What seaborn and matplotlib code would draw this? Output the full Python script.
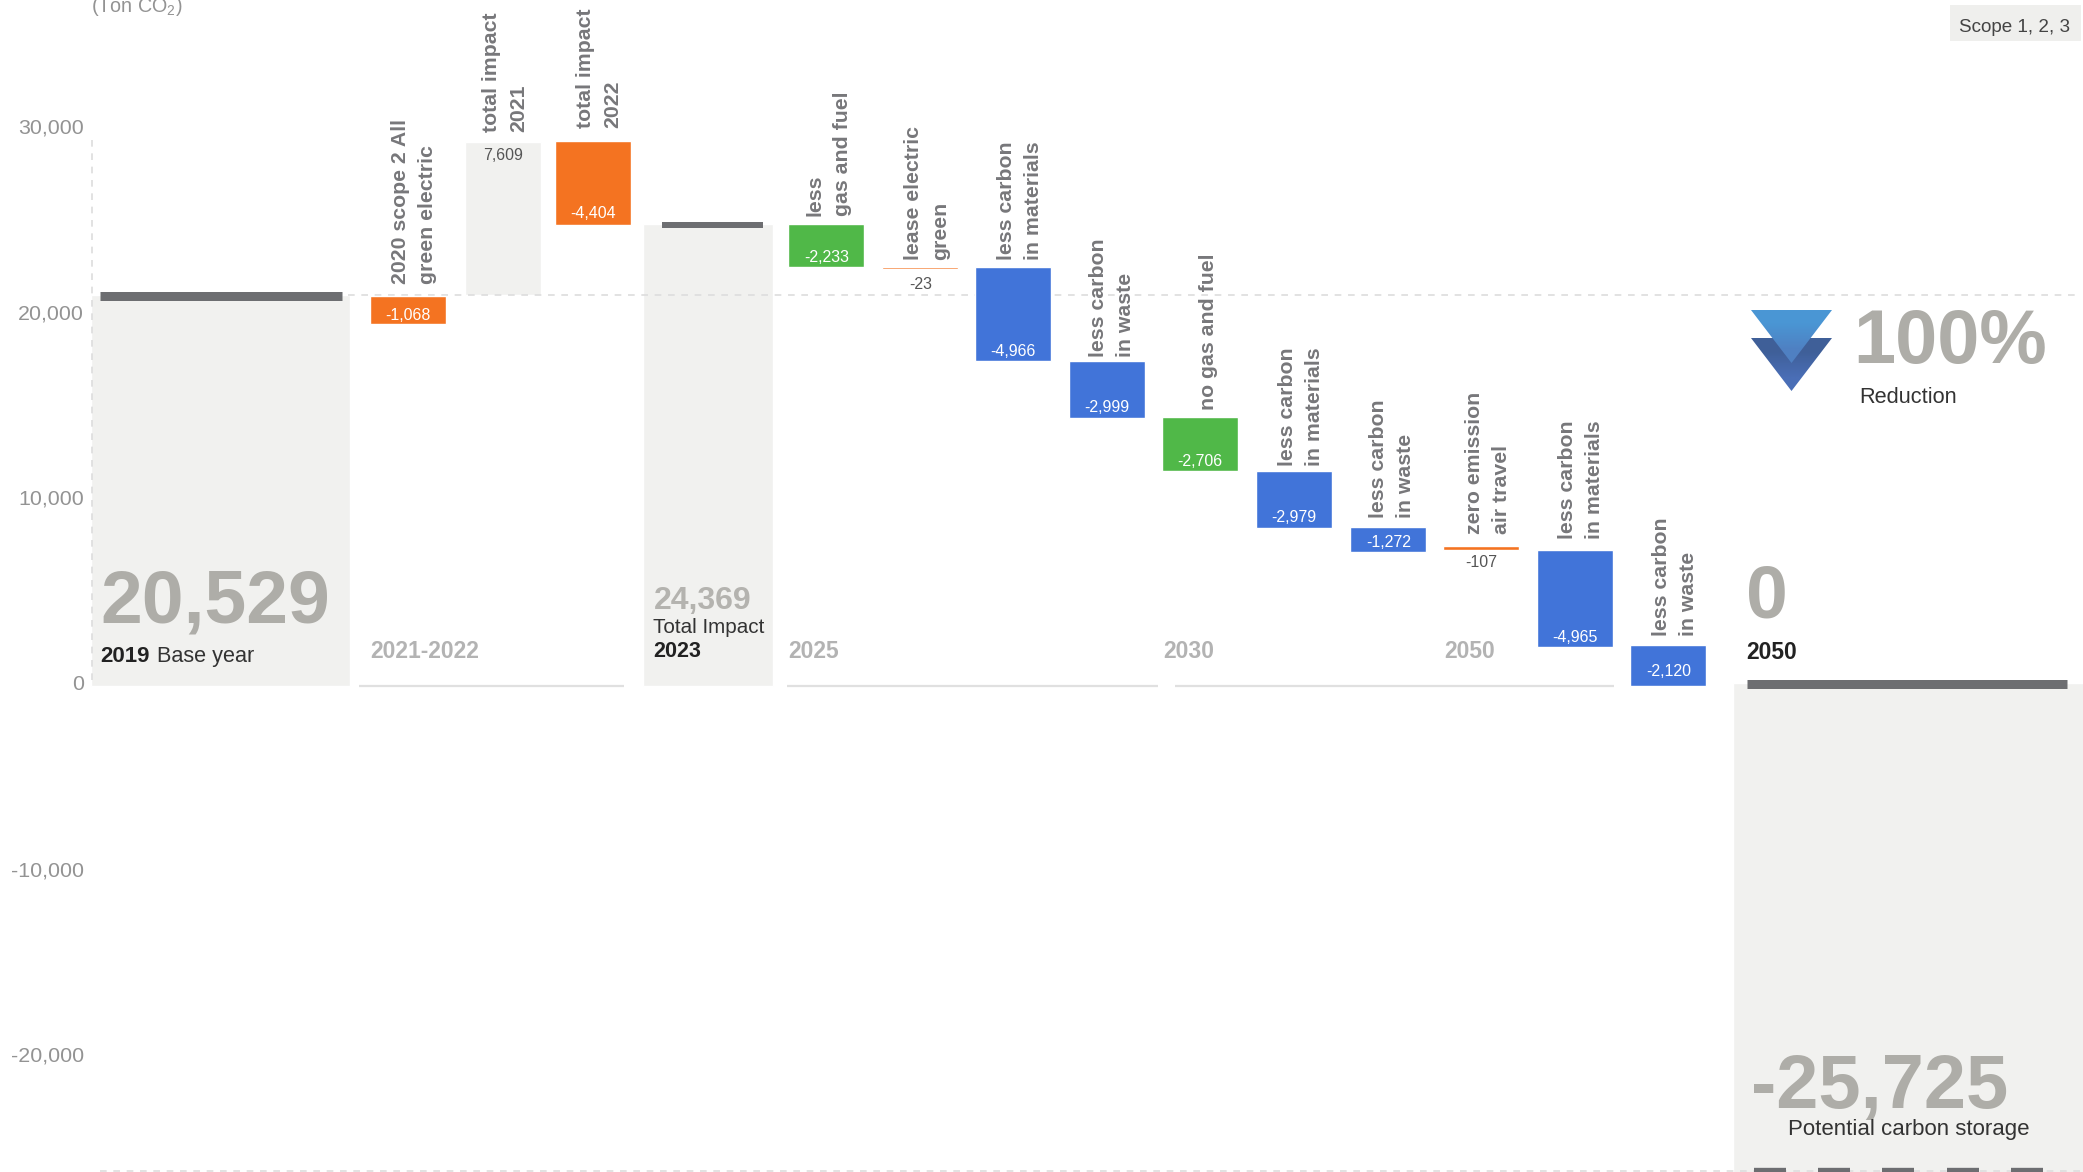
import numpy as np
import pandas as pd
import matplotlib
matplotlib.use("Agg")
import matplotlib.pyplot as plt
from matplotlib.colors import LinearSegmentedColormap
from matplotlib.patches import Polygon, Rectangle
import seaborn as sns

W, H = 2083, 1172

# --- data (ton CO2) ---
steps = ["2020 scope 2 All\ngreen electric", "total impact\n2021", "total impact\n2022",
         "less\ngas and fuel", "lease electric\ngreen", "less carbon\nin materials",
         "less carbon\nin waste", "no gas and fuel", "less carbon\nin materials",
         "less carbon\nin waste", "zero emission\nair travel", "less carbon\nin materials",
         "less carbon\nin waste"]
step_values = ["-1,068", "7,609", "-4,404", "-2,233", "-23", "-4,966", "-2,999",
               "-2,706", "-2,979", "-1,272", "-107", "-4,965", "-2,120"]
step_top = [20526, 28632, 28684, 24316, 22053, 22053, 17105, 14158, 11316, 8368, 7368, 7158, 2158]
step_low = [19053, 20590, 24263, 22053, 21945, 17105, 14105, 11316, 8316, 7053, 7158, 2053, 0]
step_kind = ["orange", "total", "orange", "green", "orange", "blue", "blue",
             "green", "blue", "blue", "orange", "blue", "blue"]

total_top = [20600, 24316, 158]
total_low = [0, 0, -25725]
cap_levels = [20553, 24263, 131]
ref_level = 20590
tick_values = [30000, 20000, 10000, 0, -10000, -20000]

# --- layout (pixels of the 2083x1172 canvas) ---
colors = {"orange": "#f47321", "green": "#50b848", "blue": "#4174d9", "total": "#f1f1ef"}
PX_PER_UNIT = 0.019
ZERO_Y = 686.4
step_left = [370.3, 465.5, 555.5, 788.3, 882.3, 975.3, 1069.3, 1162.3, 1256.3, 1350.3, 1443.3, 1537.3, 1630.5]
step_width = 76
total_left = [91, 643.2, 1733.2]
total_right = [350, 773, 2090]
cap_spans = [(99.5, 342, 9), (662.5, 763, 6), (1747.5, 2067, 9)]
label_pos = [(414, 284), (505, 132), (599, 128), (829, 216), (927, 260), (1020, 260),
             (1112, 357), (1208, 410), (1301, 466), (1392, 518), (1488, 534), (1581, 539), (1675, 636)]
value_off = [9, -13, 12, 10, -15, 10, 11, 10, 11, 10, -12, 10, 15]

sns.set_theme(style="white")
plt.rcParams["font.family"] = ["Liberation Sans", "DejaVu Sans"]
plt.rcParams["mathtext.fontset"] = "custom"
plt.rcParams["mathtext.rm"] = "Liberation Sans"

fig = plt.figure(figsize=(W / 100, H / 100), dpi=100)
ax = fig.add_axes([91 / W, 0, 1 - 91 / W, 1])
ax.patch.set_alpha(0)

df = pd.DataFrame({"label": steps, "top": step_top, "low": step_low, "kind": step_kind,
                   "left": step_left})
df["height"] = df.top - df.low
df["x"] = df.left + step_width / 2

# totals are the pale columns
for top, low, l, r in zip(total_top, total_low, total_left, total_right):
    sns.barplot(x=[(l + r) / 2], y=[top - low], bottom=low, width=r - l, native_scale=True,
                color=colors["total"], saturation=1, zorder=0.3, ax=ax)

# floating steps
for row in df.itertuples():
    sns.barplot(x=[row.x], y=[row.height], bottom=row.low, width=step_width, native_scale=True,
                color=colors[row.kind], saturation=1, zorder=0.3 if row.kind == "total" else 1, ax=ax)

# dark caps on the totals
for level, (l, r, t) in zip(cap_levels, cap_spans):
    ax.hlines(level, l, r, color="#6d6e71", lw=t * 0.72, capstyle="butt", zorder=2)

# dashed guides
guide = dict(color="#dddddd", lw=1.2, dashes=(4, 4), zorder=0.5)
ax.plot([348, 2076], [ref_level, ref_level], **guide)
ax.plot([92, 92], [(ZERO_Y - 140) / PX_PER_UNIT, 0], **guide)
ax.plot([100, 2083], [-(1171 - ZERO_Y) / PX_PER_UNIT] * 2, **guide)
for l in np.arange(1754, 2043, 64.2):
    ax.hlines(-(1172 - ZERO_Y) / PX_PER_UNIT, l, l + 32, color="#6d6e71", lw=6, capstyle="butt", zorder=2)

ax.set_xlim(91, W)
ax.set_ylim(-(H - ZERO_Y) / PX_PER_UNIT, ZERO_Y / PX_PER_UNIT)
ax.set(xlabel="", ylabel="", xticks=[], yticks=[])
sns.despine(ax=ax, left=True, bottom=True)

# tick labels sit on their own slightly different scale in the original
tax = ax.twinx()
tax.set_ylim(-(H - 683) / 0.01856, 683 / 0.01856)
tax.yaxis.tick_left()
tax.set_yticks(tick_values, [f"{v:,}" for v in tick_values])
tax.tick_params(axis="y", length=0, pad=5, labelsize=15.4, labelcolor="#939393")
sns.despine(ax=tax, left=True, bottom=True, right=True)

# value labels tied to the bars
for row, txt, off in zip(df.itertuples(), step_values, value_off):
    y = row.top if row.kind == "total" else row.low
    color = "#555555" if off < 0 else "white"
    ax.annotate(txt, (row.x, y), xytext=(0, off), textcoords="offset pixels",
                ha="center", va="center", fontsize=11.5, color=color, zorder=3)

# overlay in canvas pixels for the captions
ov = fig.add_axes([0, 0, 1, 1])
ov.set_xlim(0, W)
ov.set_ylim(H, 0)
ov.axis("off")
ov.patch.set_alpha(0)

for txt, (x, y) in zip(steps, label_pos):
    ov.text(x, y, txt, rotation=90, ha="center", va="bottom", ma="left", fontsize=15.3,
            fontweight="bold", color="#77777a", linespacing=1.55)

big = dict(fontsize=54, fontweight="bold", color="#aeada8", va="baseline")
ov.text(100, 622, "20,529", **big)
ov.text(1746, 618, "0", **big)
ov.text(1853, 363, "100%", fontsize=54.5, fontweight="bold", color="#aeada8", va="baseline")
ov.text(1751, 1108, "-25,725", fontsize=54.5, fontweight="bold", color="#aeada8", va="baseline")
ov.text(654, 609, "24,369", fontsize=23, fontweight="bold", color="#b4b3af", va="baseline")

dark = dict(color="#333333", va="baseline")
strong = dict(color="#222222", va="baseline", fontweight="bold")
ov.text(100, 662, "2019", fontsize=16, **strong)
ov.text(157, 662, "Base year", fontsize=15.6, **dark)
ov.text(653, 633, "Total Impact", fontsize=14.9, **dark)
ov.text(653, 657, "2023", fontsize=15.5, **strong)
ov.text(1746, 659, "2050", fontsize=16.5, **strong)
ov.text(1859, 403, "Reduction", fontsize=15.7, **dark)
ov.text(1788, 1135, "Potential carbon storage", fontsize=16, **dark)

period = dict(fontsize=16.5, fontweight="bold", color="#b3b3b3", va="baseline")
for x, txt in zip([370.5, 788.5, 1163, 1444.5], ["2021-2022", "2025", "2030", "2050"]):
    ov.text(x, 658, txt, **period)
for l, r in [(359, 624), (787, 1158), (1175, 1614)]:
    ov.plot([l, r], [685.5, 685.5], color="#e0e0e0", lw=1.6, solid_capstyle="butt")

ov.add_patch(Rectangle((1950, 5), 131, 36, color="#efefed", lw=0))
ov.text(1959, 32, "Scope 1, 2, 3", fontsize=13.6, color="#444444", va="baseline")
ov.text(91, 12, "(Ton CO$_{2}$)", fontsize=14.2, color="#939393", va="baseline")

# the two stacked arrowheads with their gradients
for y0, y1, c0, c1 in [(338, 391, "#3f5f98", "#4a6eb6"), (310, 363, "#4a96d4", "#4f80c2")]:
    cmap = LinearSegmentedColormap.from_list("arrow", [c0, c1])
    im = ov.imshow([[0.0], [1.0]], extent=(1751, 1832, y1, y0), aspect="auto", cmap=cmap,
                   interpolation="bilinear")
    tri = Polygon([(1751, y0), (1832, y0), (1791.5, y1)], transform=ov.transData, fc="none", ec="none")
    ov.add_patch(tri)
    im.set_clip_path(tri)
ov.set_xlim(0, W)
ov.set_ylim(H, 0)

fig.savefig("out.png", dpi=100)
